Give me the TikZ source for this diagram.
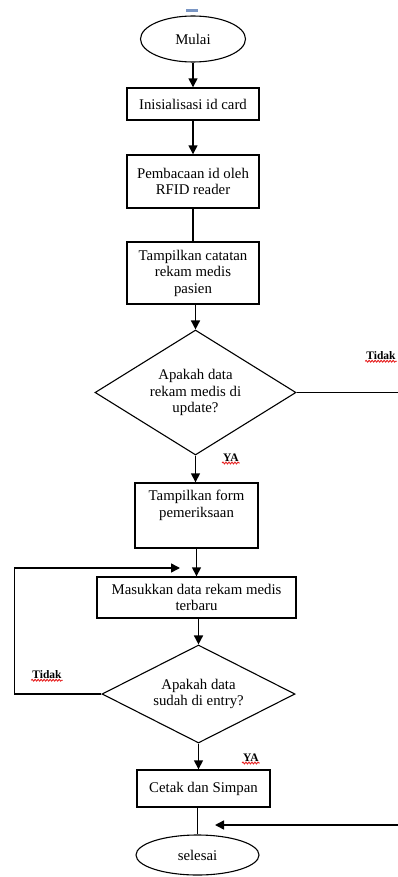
\documentclass[tikz,border=0pt]{standalone}
\usepackage{fontspec}
\setmainfont{Liberation Serif}
\usetikzlibrary{shapes.geometric,arrows.meta,decorations.pathmorphing}
\definecolor{dashblue}{RGB}{122,150,196}
\definecolor{spellred}{RGB}{230,30,30}
\tikzset{
  every node/.style={font=\fontsize{14.8}{16.5}\selectfont},
  procbox/.style={draw, line width=1.4pt, rectangle, inner sep=0pt, align=center},
  term/.style={draw, line width=1.1pt, ellipse, inner sep=0pt, align=center},
  decision/.style={draw, line width=1.1pt, diamond, aspect=1.6, inner sep=0pt, align=center},
  flow/.style={line width=1.5pt, -{Triangle[length=9pt,width=9pt]}},
  plain/.style={line width=1.5pt},
  answer/.style={font=\fontsize{11.5}{13}\bfseries\selectfont, inner sep=1pt},
  squiggle/.style={spellred, line width=0.9pt, decorate, decoration={snake, amplitude=0.9pt, segment length=3pt}}
}
\begin{document}
\begin{tikzpicture}[x=1pt,y=-1pt]
\useasboundingbox (0,0) rectangle (398,877);
\fill[dashblue] (186,9) rectangle (198,12);

\node[term, minimum width=105pt, minimum height=46pt] (mulai) at (193,39) {Mulai};
\node[procbox, minimum width=132pt, minimum height=32pt] (init) at (193,104) {Inisialisasi id card};
\node[procbox, minimum width=132pt, minimum height=53pt] (baca) at (193,181.5) {Pembacaan id oleh\\RFID reader};
\node[procbox, minimum width=132pt, minimum height=62pt] (tampil) at (193,273) {Tampilkan catatan\\rekam medis\\pasien};
\node[decision, minimum width=201pt, minimum height=125pt] (dia1) at (195.5,392.5) {Apakah data\\rekam medis di\\update?};
\node[procbox, minimum width=123pt, minimum height=65pt] (form) at (196.5,515.5) {Tampilkan form\\pemeriksaan\\[2pt]\strut};
\node[procbox, minimum width=199pt, minimum height=41pt] (masuk) at (196.5,597.5) {Masukkan data rekam medis\\terbaru};
\node[decision, minimum width=193pt, minimum height=98pt] (dia2) at (198.5,694) {Apakah data\\sudah di entry?};
\node[procbox, minimum width=133pt, minimum height=37pt] (cetak) at (203.5,788.5) {Cetak dan Simpan};
\node[term, minimum width=123pt, minimum height=40pt] (selesai) at (197.5,855) {selesai};

\node[answer] (tidak1) at (381,356) {Tidak};
\node[answer] (ya1) at (231,458) {YA};
\node[answer] (tidak2) at (47,675) {Tidak};
\node[answer] (ya2) at (251,758) {YA};
\foreach \n in {tidak1,ya1,tidak2,ya2}
  \draw[squiggle] (\n.south west) -- (\n.south east);

\coordinate (rightout) at (398,392.5);
\coordinate (loopin) at (180,568);
\coordinate (rightin) at (398,825);
\coordinate (endin) at (215,825);

\draw[flow] (mulai.south) -- (mulai.south |- init.north);
\draw[flow] (init.south) -- (init.south |- baca.north);
\draw[plain] (baca.south) -- (baca.south |- tampil.north);
\draw[flow] (dia1.north |- tampil.south) -- (dia1.north);
\draw[plain] (dia1.east) -- (rightout);
\draw[flow] (dia1.south) -- (dia1.south |- form.north);
\draw[flow] (form.south -| masuk.north) -- (masuk.north);
\draw[flow] (masuk.south -| dia2.north) -- (dia2.north);
\draw[flow] (dia2.west) -- ++(-87,0) |- (loopin);
\draw[flow] (dia2.south) -- (dia2.south |- cetak.north);
\draw[plain] (cetak.south -| selesai.north) -- (selesai.north);
\draw[flow] (rightin) -- (endin);
\end{tikzpicture}
\end{document}
